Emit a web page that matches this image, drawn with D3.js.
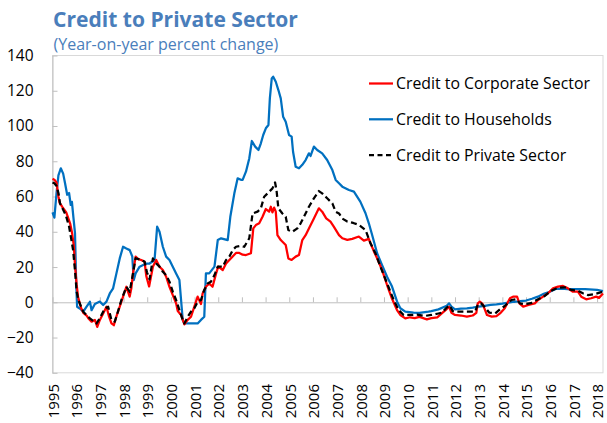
<!DOCTYPE html>
<html>
<head>
<meta charset="utf-8">
<style>
  body { margin: 0; background: #fff; }
  text { font-family: "Open Sans", sans-serif; }
</style>
</head>
<body>
<div id="container"></div>
<script src="https://cdn.jsdelivr.net/npm/d3@7"></script>
<script>
// values (decimal years, percent)
const corpDates = [1995.00,1995.08,1995.17,1995.25,1995.30,1995.42,1995.58,1995.75,1995.83,1995.90,1995.95,1996.02,1996.08,1996.20,1996.30,1996.44,1996.51,1996.65,1996.79,1996.89,1997.00,1997.14,1997.28,1997.39,1997.49,1997.59,1997.70,1997.84,1997.98,1998.12,1998.26,1998.33,1998.40,1998.51,1998.62,1998.75,1998.89,1998.96,1999.08,1999.24,1999.38,1999.52,1999.66,1999.80,1999.94,2000.08,2000.22,2000.29,2000.43,2000.57,2000.71,2000.85,2000.99,2001.13,2001.27,2001.34,2001.48,2001.62,2001.76,2001.91,2002.00,2002.19,2002.33,2002.47,2002.61,2002.75,2002.89,2003.03,2003.17,2003.38,2003.48,2003.59,2003.73,2003.87,2004.01,2004.15,2004.22,2004.29,2004.36,2004.43,2004.50,2004.64,2004.85,2004.96,2005.10,2005.27,2005.41,2005.55,2005.69,2005.83,2006.04,2006.25,2006.39,2006.56,2006.74,2006.88,2007.10,2007.24,2007.45,2007.66,2007.94,2008.15,2008.36,2008.43,2008.57,2008.71,2008.92,2009.13,2009.34,2009.55,2009.69,2009.90,2010.10,2010.30,2010.50,2010.81,2011.00,2011.25,2011.44,2011.60,2011.75,2011.85,2012.00,2012.25,2012.50,2012.75,2012.90,2012.96,2013.05,2013.17,2013.27,2013.35,2013.55,2013.75,2013.90,2014.10,2014.32,2014.45,2014.62,2014.72,2014.88,2015.10,2015.37,2015.51,2015.72,2015.93,2016.14,2016.35,2016.56,2016.77,2016.98,2017.19,2017.33,2017.54,2017.75,2017.96,2018.08,2018.25];
const corpValues = [70,69.5,68,60,56.5,54,51,44.5,39,32,21,10,3,-3,-6,-7.5,-9,-11,-10,-14,-10,-6.3,-2.5,-8.2,-12,-13,-8,-2.5,3.2,8.8,3.2,8,16.4,25.9,24.5,24,23,15,9,20.2,24,20.2,18.3,14.5,8.8,4.1,-0.6,-5,-7.2,-12.5,-10,-8.2,-2.5,3.2,-1,5,8.8,10.7,8.8,16.4,20.2,18.3,22,24,26,28,28,27,26.8,27.8,41.9,43.8,44.8,48.5,52.9,51.4,54.2,51,53.7,51.4,38.1,35.3,32.5,24.9,24,25.9,26.8,35.3,38.1,41.9,47.6,53.3,51.4,47.6,45.7,42.9,38.1,36.3,35.4,36,37.3,35,36,33.5,29,24.9,18.3,9.8,2,-4.4,-7.2,-9.1,-8.5,-9,-8.3,-9.7,-9,-8.5,-6.3,-4.5,-2.5,-6,-7.2,-7.5,-8.1,-7.5,-6,-0.6,0.4,-1,-4.4,-7.2,-8.1,-7.8,-6.3,-3.4,2.3,3.2,3.2,-0.6,-2.5,-1.5,-0.6,1.3,3.2,5.1,7.9,8.9,9.3,7.9,6,6,3.2,1.7,2.3,3.2,2.5,5];

const hhDates = [1995.00,1995.08,1995.17,1995.25,1995.35,1995.45,1995.53,1995.62,1995.70,1995.77,1995.82,1995.88,1995.95,1996.00,1996.04,1996.15,1996.30,1996.44,1996.58,1996.65,1996.79,1997.00,1997.14,1997.28,1997.42,1997.56,1997.70,1997.84,1997.98,1998.12,1998.26,1998.37,1998.43,1998.51,1998.68,1998.96,1999.10,1999.31,1999.42,1999.52,1999.66,1999.80,1999.94,2000.08,2000.22,2000.36,2000.43,2000.50,2000.57,2000.92,2001.13,2001.27,2001.41,2001.48,2001.62,2001.84,2001.98,2002.12,2002.40,2002.51,2002.68,2002.82,2002.96,2003.03,2003.17,2003.31,2003.42,2003.56,2003.70,2003.80,2003.90,2004.01,2004.12,2004.18,2004.26,2004.32,2004.43,2004.54,2004.64,2004.74,2004.85,2004.99,2005.10,2005.16,2005.27,2005.41,2005.55,2005.69,2005.83,2005.90,2006.04,2006.18,2006.39,2006.60,2006.82,2006.96,2007.10,2007.24,2007.52,2007.73,2008.00,2008.22,2008.36,2008.50,2008.71,2008.92,2009.13,2009.34,2009.55,2009.69,2009.90,2010.25,2010.50,2010.88,2011.00,2011.30,2011.65,2011.75,2011.85,2012.00,2012.25,2012.50,2012.75,2013.00,2013.25,2013.50,2013.75,2014.00,2014.25,2014.50,2014.75,2015.00,2015.25,2015.50,2015.75,2016.00,2016.25,2016.50,2016.75,2017.00,2017.50,2018.00,2018.25];
const hhValues = [51,48,62,72,76,73,67.5,61,62,55.2,57,48.6,39.3,11,-2.5,-3.5,-5.3,-2.5,0.3,-4.5,-1,0.4,-1.5,0.4,5,7.9,16.4,24.9,31.5,30.5,29.6,26,12.6,16.4,20.2,22,22,24,42.9,40,31.5,25.9,24,20.2,16.4,12.6,1.3,-10,-12,-12,-12,-10,-8.2,16.4,16.4,20.2,35.3,36.3,35.3,48.5,61.8,70.3,69.5,69.4,74.1,81.6,91.5,88.3,86.4,90.2,94.9,98.7,100.6,115.7,127,128,125.1,120.4,115.7,105.3,102.4,94.9,94,85.4,76.9,76,78,80.7,84.5,83,88.3,86.4,84.5,80.7,75,69.4,67.5,65.6,63.7,62.8,57.1,50.5,44.8,38.2,27.8,21,14.5,8.9,0.5,-3.4,-5.3,-5.9,-6,-5.3,-5,-4,-2,-0.6,-2.5,-4,-3.6,-3.4,-3,-2.5,-2,-1.5,-1.2,-0.8,-0.2,0.3,0.6,1,2,3.2,4.8,6,7.6,7.8,7.5,7.4,7.4,7,6.4];

const privDates = [1995.00,1995.08,1995.17,1995.25,1995.32,1995.42,1995.56,1995.70,1995.81,1995.87,1995.95,1996.02,1996.10,1996.30,1996.58,1996.86,1997.00,1997.21,1997.35,1997.49,1997.63,1997.77,1997.91,1998.12,1998.26,1998.40,1998.51,1998.75,1998.89,1998.99,1999.10,1999.24,1999.38,1999.52,1999.66,1999.80,1999.94,2000.08,2000.22,2000.36,2000.50,2000.57,2000.71,2000.85,2000.99,2001.13,2001.27,2001.41,2001.55,2001.69,2001.84,2001.98,2002.19,2002.33,2002.47,2002.61,2002.75,2002.96,2003.10,2003.31,2003.45,2003.66,2003.80,2003.94,2004.15,2004.29,2004.40,2004.46,2004.54,2004.71,2004.85,2004.96,2005.13,2005.34,2005.48,2005.62,2005.83,2006.04,2006.25,2006.39,2006.60,2006.82,2006.96,2007.10,2007.24,2007.45,2007.70,2007.94,2008.22,2008.43,2008.64,2008.85,2009.13,2009.41,2009.62,2009.83,2010.10,2010.40,2010.70,2011.00,2011.25,2011.45,2011.65,2011.78,2011.90,2012.00,2012.50,2012.85,2012.97,2013.10,2013.30,2013.45,2013.70,2013.90,2014.10,2014.38,2014.60,2014.74,2014.95,2015.20,2015.51,2015.79,2016.07,2016.35,2016.63,2016.91,2017.19,2017.40,2017.61,2017.90,2018.25];
const privValues = [68,67.5,66,62,56,53.3,49.5,43,34.4,29.6,18,6,1,-5.4,-9.1,-12,-9,-3.4,-2.5,-10,-11,-5,1.3,8.8,6,16.4,25,24,23,17,13,24.9,22,20.2,17.3,15.4,11.7,6,1.3,-4.4,-10,-12,-8.2,-5.3,-3.4,0.3,1.3,7,10.7,11.7,15.4,20.2,20.2,24,25.9,29.6,31.5,32,31.5,36.3,50.4,51.4,53.3,59.9,62.7,64.6,68,63.7,53.3,50.4,48.5,41,40,41.9,44.8,48.5,54.2,59,63.1,61.8,59,56.1,51.4,50.4,47.5,45.8,45,43.9,41,33.5,27.8,20.2,10.8,1.3,-4.4,-7.2,-7.2,-7,-7.8,-7.2,-6.5,-5.9,-3,-1.8,-5,-5.3,-5.3,-5.3,-1,-0.6,-3.4,-5.9,-6.3,-4,-2.1,1.3,1.7,-0.6,-1.1,-0.5,1.7,3.6,6.6,8.3,8.5,7,6.6,5.1,4.1,4.7,6];

const yearLabels = ["1995","1996","1997","1998","1999","2000","2001","2002","2003","2004","2005","2006","2007","2008","2009","2010","2011","2012","2013","2014","2015","2016","2017","2018"];
const yTicks = [-40, -20, 0, 20, 40, 60, 80, 100, 120, 140];
const seriesNames = ["Credit to Corporate Sector", "Credit to Households", "Credit to Private Sector"];

const svg = d3.select("#container")
    .append("svg")
    .attr("width", 607)
    .attr("height", 423);

const x = d3.scaleLinear().domain([1995, 2018.25]).range([52.5, 603]);
const y = d3.scaleLinear().domain([-40, 140]).range([372.8, 55.5]);

// scale a text's font size so its drawn width matches the reference
function fitWidth(sel, target) {
    const size = parseFloat(sel.attr("font-size"));
    const w = sel.node().getComputedTextLength();
    sel.attr("font-size", (size * target / w).toFixed(2) + "px");
    return size * target / w;
}

// title
const title = svg.append("text")
    .attr("x", 53)
    .attr("y", 27)
    .attr("fill", "#4a7ebb")
    .attr("font-size", "21px")
    .attr("font-weight", "bold")
    .text("Credit to Private Sector");
fitWidth(title, 245);
const subtitle = svg.append("text")
    .attr("x", 53.5)
    .attr("y", 50)
    .attr("fill", "#4a7ebb")
    .attr("font-size", "16px")
    .text("(Year-on-year percent change)");
fitWidth(subtitle, 225);

// plot frame
svg.append("rect")
    .attr("x", 52.5)
    .attr("y", 55.5)
    .attr("width", 603 - 52.5)
    .attr("height", 372.8 - 55.5)
    .attr("fill", "none")
    .attr("stroke", "#d9d9d9")
    .attr("stroke-width", 1);

// y axis
const yAxis = svg.append("g")
    .attr("transform", "translate(52.5,0)")
    .call(d3.axisLeft(y).tickValues(yTicks).tickSizeInner(-5).tickSizeOuter(0).tickPadding(19));
yAxis.select(".domain").attr("stroke", "#bfbfbf");
yAxis.selectAll(".tick line").attr("stroke", "#bfbfbf");
yAxis.selectAll("text").attr("font-size", "15.5px").attr("fill", "#000").attr("font-family", "Open Sans");

// x axis on zero line
const years = yearLabels.map(Number);
const xAxis = svg.append("g")
    .attr("transform", `translate(0,${y(0)})`)
    .call(d3.axisBottom(x).tickValues(years).tickSizeInner(-5).tickSizeOuter(0).tickFormat(""));
xAxis.select(".domain").attr("stroke", "#bfbfbf");
xAxis.selectAll(".tick line").attr("stroke", "#bfbfbf");

// year labels at the bottom
svg.append("g")
    .selectAll("text")
    .data(years)
    .join("text")
    .attr("transform", d => `translate(${x(d) + 1},384) rotate(-90)`)
    .attr("text-anchor", "end")
    .attr("dy", "0.35em")
    .attr("font-size", "15px")
    .attr("fill", "#000")
    .text((d, i) => yearLabels[i]);

// lines
const line = d3.line()
    .x(d => x(d[0]))
    .y(d => y(d[1]));

const series = [
    { dates: hhDates, values: hhValues, color: "#0070c0", dash: null },
    { dates: corpDates, values: corpValues, color: "#ff0000", dash: null },
    { dates: privDates, values: privValues, color: "#000000", dash: "6,3.5" }
];

svg.append("g")
    .selectAll("path")
    .data(series)
    .join("path")
    .attr("d", s => line(s.dates.map((t, i) => [t, s.values[i]])))
    .attr("fill", "none")
    .attr("stroke", s => s.color)
    .attr("stroke-width", 2.25)
    .attr("stroke-linejoin", "round")
    .attr("stroke-dasharray", s => s.dash);

// legend
const legendItems = [
    { name: seriesNames[0], color: "#ff0000", dash: null },
    { name: seriesNames[1], color: "#0070c0", dash: null },
    { name: seriesNames[2], color: "#000000", dash: "5,3.5" }
];
const legend = svg.append("g");
const legendTexts = [];
legendItems.forEach((d, i) => {
    const ly = 83.5 + i * 35.8;
    legend.append("line")
        .attr("x1", 369)
        .attr("x2", 393)
        .attr("y1", ly)
        .attr("y2", ly)
        .attr("stroke", d.color)
        .attr("stroke-width", 2.25)
        .attr("stroke-dasharray", d.dash);
    legendTexts.push(legend.append("text")
        .attr("x", 396)
        .attr("y", ly)
        .attr("dy", "0.35em")
        .attr("font-size", "15px")
        .attr("fill", "#000")
        .text(d.name));
});
// size all legend texts from the first one's width in the reference
const legendSize = fitWidth(legendTexts[0], 194);
legendTexts.forEach(t => t.attr("font-size", legendSize.toFixed(2) + "px"));
</script>
</body>
</html>
